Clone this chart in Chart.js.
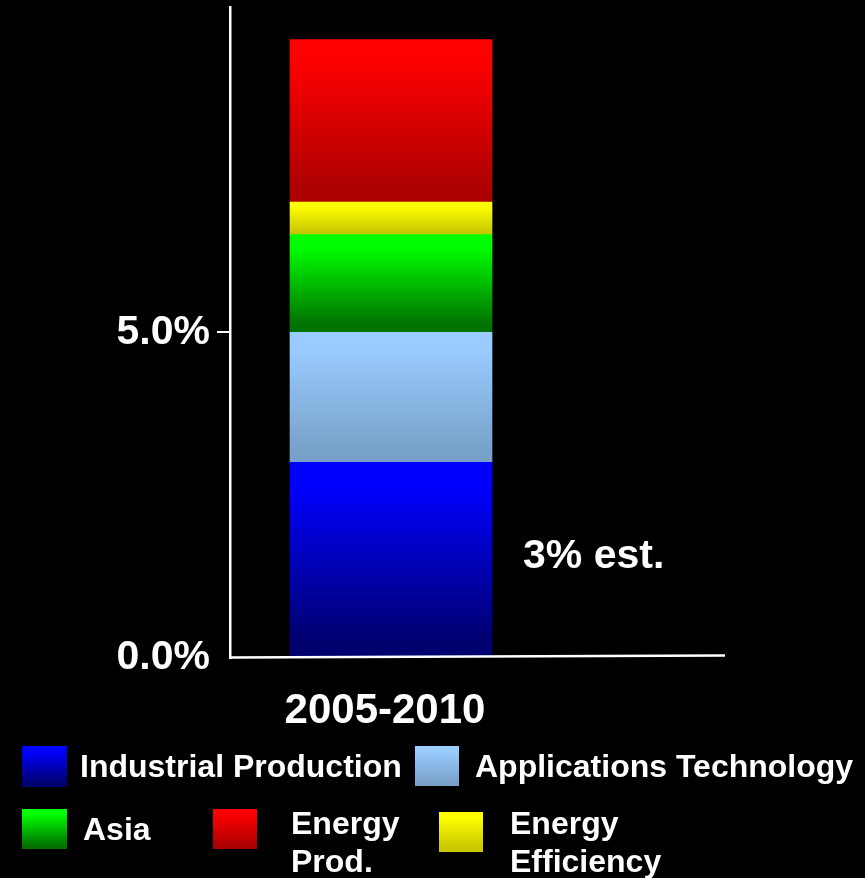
<!DOCTYPE html>
<html>
<head>
<meta charset="utf-8">
<script src="https://cdn.jsdelivr.net/npm/chart.js@4.4.1/dist/chart.umd.min.js"></script>
<style>
  html, body { margin: 0; padding: 0; background: #000; }
  #wrap { width: 865px; height: 878px; }
</style>
</head>
<body>
<div id="wrap"><canvas id="growthChart" width="865" height="878"></canvas></div>
<script>
// growth contributions, stacked bottom -> top (percent)
const periods = ["2005-2010"];
const industrialProduction = [3.0];
const applicationsTechnology = [2.0];
const asia = [1.5];
const energyEfficiency = [0.5];
const energyProduction = [2.5];
const yTicks = [0, 5];
const yMax = 10;

// top / bottom colour of each segment's vertical fade
const fills = {
  industrial: ["#0000ff", "#00006e"],
  applications: ["#9accff", "#78a1c9"],
  asia: ["#00ff00", "#007200"],
  efficiency: ["#ffff00", "#c9c700"],
  production: ["#ff0000", "#ac0000"],
};

const FONT = "'Liberation Sans', Arial, Helvetica, sans-serif";

function fade(ctx2d, top, bottom, pair) {
  const g = ctx2d.createLinearGradient(0, top, 0, bottom);
  g.addColorStop(0, pair[0]);
  g.addColorStop(0.12, pair[0]);
  g.addColorStop(0.92, pair[1]);
  g.addColorStop(1, pair[1]);
  return g;
}

// gradient per stacked segment, computed from the y scale
function segmentFill(pair) {
  return (ctx) => {
    const chart = ctx.chart;
    if (ctx.type !== "data" || !chart.chartArea) return pair[0];
    const y = chart.scales.y;
    const sets = chart.data.datasets;
    let base = 0;
    for (let k = 0; k < ctx.datasetIndex; k++) base += sets[k].data[ctx.dataIndex];
    const value = sets[ctx.datasetIndex].data[ctx.dataIndex];
    return fade(chart.ctx, y.getPixelForValue(base + value), y.getPixelForValue(base), pair);
  };
}

// legend boxes: swatch rect, text start and baselines
const legendItems = [
  { set: 0, box: [22, 746, 45, 41], text: ["Industrial Production"], x: 80, base: [777] },
  { set: 1, box: [415, 746, 44, 40], text: ["Applications Technology"], x: 475, base: [777] },
  { set: 2, box: [22, 809, 45, 40], text: ["Asia"], x: 83, base: [840] },
  { set: 4, box: [213, 809, 44, 40], text: ["Energy", "Prod."], x: 291, base: [834, 872] },
  { set: 3, box: [439, 812, 44, 40], text: ["Energy", "Efficiency"], x: 510, base: [834, 872] },
];

const baselineEnd = 725;

const decorations = {
  id: "decorations",
  afterDatasetsDraw(chart) {
    const { ctx, chartArea } = chart;
    const y0 = chart.scales.y.getPixelForValue(0);
    ctx.save();
    // x axis baseline, runs past the plot to the right
    ctx.strokeStyle = "#fff";
    ctx.lineWidth = 2.5;
    ctx.beginPath();
    ctx.moveTo(chartArea.left, y0);
    ctx.lineTo(baselineEnd, y0 - 2);
    ctx.stroke();
    ctx.restore();
  },
  afterDraw(chart) {
    const { ctx } = chart;
    const y = chart.scales.y;
    ctx.save();

    // note next to the bottom segment
    const bar = chart.getDatasetMeta(0).data[0];
    const mid = y.getPixelForValue(industrialProduction[0] / 2);
    ctx.fillStyle = "#fff";
    ctx.font = `bold 41px ${FONT}`;
    ctx.textAlign = "left";
    ctx.textBaseline = "alphabetic";
    ctx.fillText(`${industrialProduction[0]}% est.`, bar.x + bar.width / 2 + 31, mid + 8);

    // legend
    ctx.font = `bold 32px ${FONT}`;
    legendItems.forEach((item) => {
      const ds = chart.data.datasets[item.set];
      const [bx, by, bw, bh] = item.box;
      ctx.fillStyle = fade(ctx, by, by + bh, ds.fadePair);
      ctx.fillRect(bx, by, bw, bh);
      ctx.fillStyle = "#fff";
      item.text.forEach((line, i) => ctx.fillText(line, item.x, item.base[i]));
    });
    ctx.restore();
  },
};

const canvas = document.getElementById("growthChart");
new Chart(canvas.getContext("2d"), {
  type: "bar",
  data: {
    labels: periods,
    datasets: [
      { label: "Industrial Production", data: industrialProduction, fadePair: fills.industrial },
      { label: "Applications Technology", data: applicationsTechnology, fadePair: fills.applications },
      { label: "Asia", data: asia, fadePair: fills.asia },
      { label: "Energy Efficiency", data: energyEfficiency, fadePair: fills.efficiency },
      { label: "Energy Prod.", data: energyProduction, fadePair: fills.production },
    ].map((d) => ({
      ...d,
      backgroundColor: segmentFill(d.fadePair),
      borderWidth: 0,
      barThickness: 202,
    })),
  },
  options: {
    responsive: false,
    animation: false,
    events: [],
    layout: { padding: { top: 7, right: 313, bottom: 0, left: 0 } },
    plugins: { legend: { display: false }, tooltip: { enabled: false } },
    scales: {
      x: {
        stacked: true,
        grid: { display: false },
        border: { display: false },
        ticks: {
          color: "#fff",
          padding: 21,
          labelOffset: -6,
          font: { family: FONT, size: 42, weight: "bold" },
        },
        afterFit(scale) {
          scale.height = 220.5;
          scale.paddingLeft = 0;
          scale.paddingRight = 0;
        },
      },
      y: {
        stacked: true,
        min: 0,
        max: yMax,
        afterBuildTicks(scale) {
          scale.ticks = yTicks.map((v) => ({ value: v }));
        },
        afterFit(scale) {
          scale.width = 230;
          scale.paddingTop = 0;
          scale.paddingBottom = 0;
        },
        grid: {
          display: true,
          drawOnChartArea: false,
          drawTicks: true,
          tickLength: 13,
          lineWidth: 2,
          color: (c) => (c.tick && c.tick.value === 0 ? "rgba(0,0,0,0)" : "#fff"),
        },
        border: { display: true, color: "#fff", width: 2.5 },
        ticks: {
          color: "#fff",
          padding: 7,
          font: { family: FONT, size: 41, weight: "bold" },
          callback: (v) => Number(v).toFixed(1) + "%",
        },
      },
    },
  },
  plugins: [decorations],
});
</script>
</body>
</html>
